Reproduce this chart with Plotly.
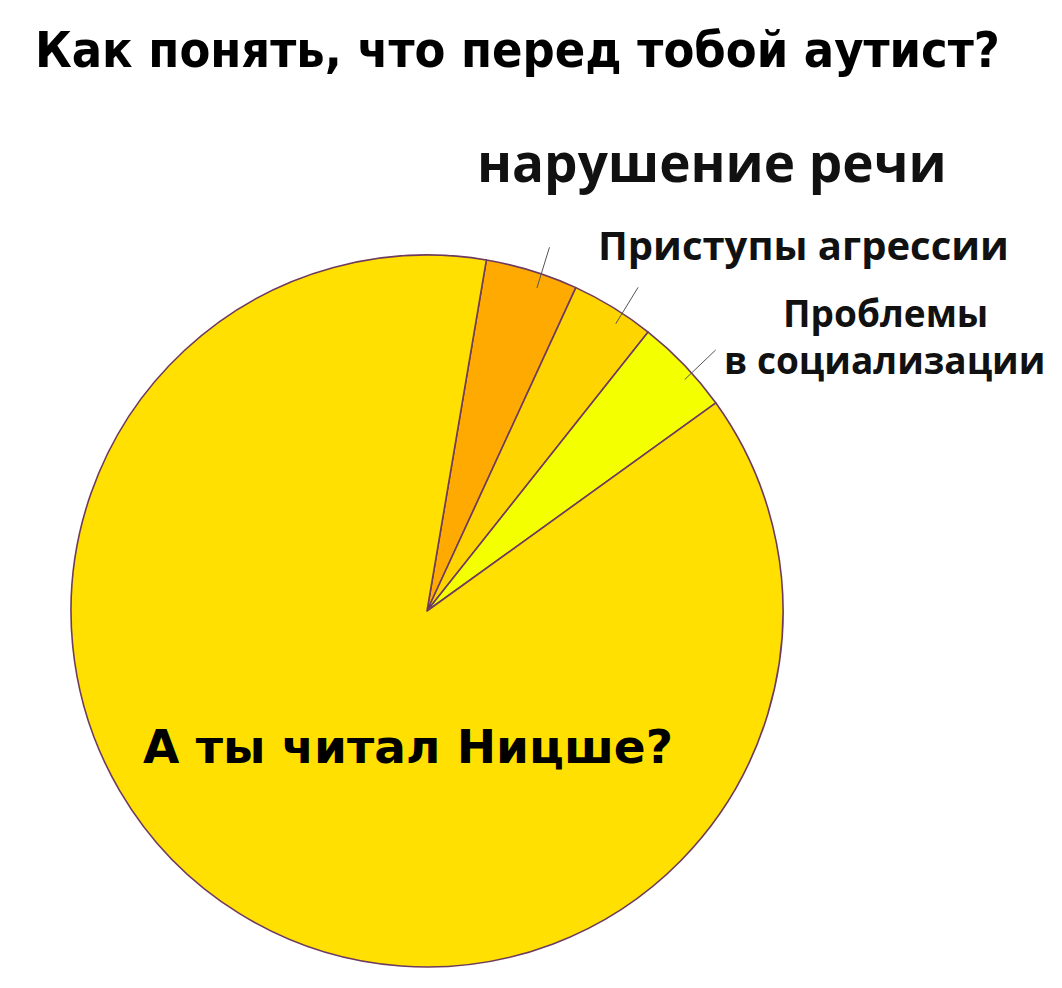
import math
import plotly.graph_objects as go

# ---- data ----
labels = ["нарушение речи", "Приступы агрессии", "Проблемы в социализации", "А ты читал Ницше?"]
values = [4.2, 3.8, 4.4, 87.6]
colors = ["#FFAA00", "#FFD500", "#F4FF00", "#FFE000"]
start_angle = 9.6  # degrees clockwise from 12 o'clock
title_text = "Как понять, что перед тобой аутист?"

W, H = 1062, 988
cx, cy, r = 419, 603, 356  # domain geometry (pixels)
dom_x = [(cx - r) / W, (cx + r) / W]
dom_y = [(H - cy - r) / H, (H - cy + r) / H]

fig = go.Figure(go.Pie(
    labels=labels, values=values, sort=False, direction="clockwise",
    rotation=start_angle, textinfo="none", hoverinfo="label+percent",
    marker=dict(colors=colors, line=dict(color="#6E3A5E", width=1.6)),
    domain=dict(x=dom_x, y=dom_y), showlegend=False,
))

# leader ticks at slice mid-angles for the three small slices
vcx, vcy = cx + 8, cy + 7  # visual pie centre
shapes = []
total = sum(values)
acc = 0.0
for v in values[:3]:
    mid = start_angle + (acc + v / 2) / total * 360
    acc += v
    a = math.radians(mid)
    p = []
    for k in (0.97, 1.09):
        px = vcx + k * r * math.sin(a)
        py = vcy - k * r * math.cos(a)
        p.append((px / W, 1 - py / H))
    shapes.append(dict(type="line", xref="paper", yref="paper",
                       x0=p[0][0], y0=p[0][1], x1=p[1][0], y1=p[1][1],
                       line=dict(color="#555555", width=1)))

lab_font = "Open Sans, DejaVu Sans, sans-serif"
annotations = [
    dict(text=f"<b>{title_text}</b>", x=509 / W, y=1 - 42 / H,
         font=dict(family="DejaVu Sans Condensed, Liberation Sans Narrow, sans-serif", size=50, color="#000")),
    dict(text=f"<b>{labels[0]}</b>", x=704 / W, y=1 - 153 / H,
         font=dict(family=lab_font, size=53, color="#111")),
    dict(text=f"<b>{labels[1]}</b>", x=795 / W, y=1 - 236 / H,
         font=dict(family=lab_font, size=40, color="#111")),
    dict(text="<b>Проблемы</b>", x=877 / W, y=1 - 304 / H,
         font=dict(family=lab_font, size=37, color="#111")),
    dict(text="<b>в социализации</b>", x=876 / W, y=1 - 351 / H,
         font=dict(family=lab_font, size=37, color="#111")),
    dict(text=f"<b>{labels[3]}</b>", x=400 / W, y=1 - 738 / H,
         font=dict(family="DejaVu Sans, sans-serif", size=47, color="#000")),
]
for an in annotations:
    an.update(xref="paper", yref="paper", showarrow=False, xanchor="center", yanchor="middle")

fig.update_layout(
    width=W, height=H, margin=dict(l=0, r=0, t=0, b=0),
    paper_bgcolor="white", plot_bgcolor="white",
    shapes=shapes, annotations=annotations,
)
fig.write_html("out.html")
